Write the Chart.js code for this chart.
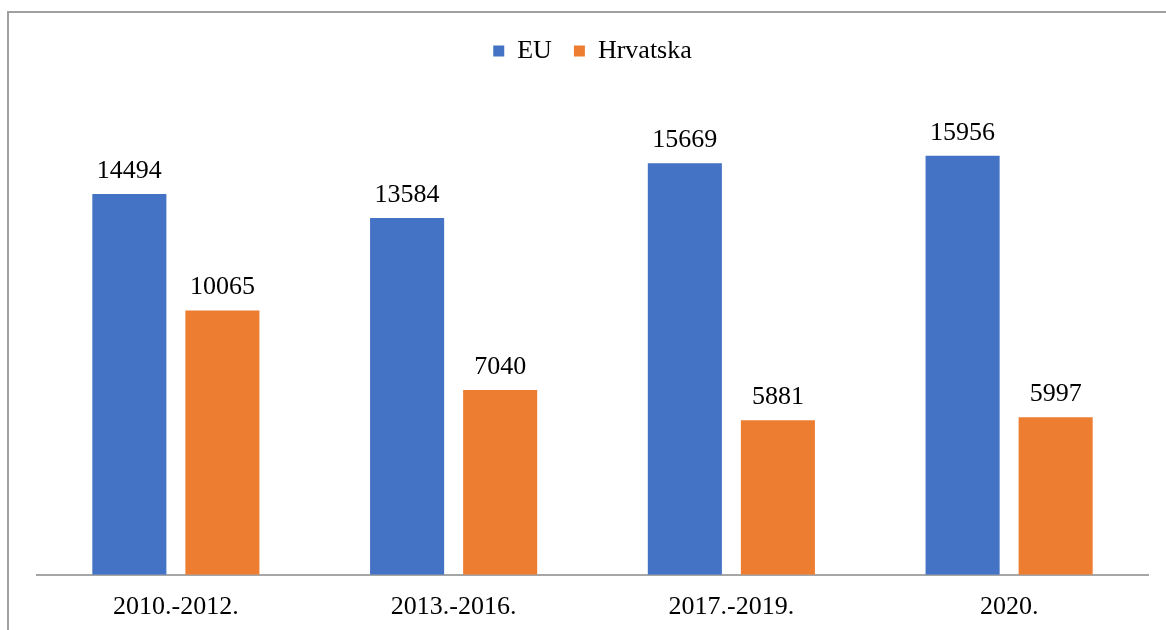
<!DOCTYPE html>
<html lang="hr">
<head>
    <meta charset="UTF-8">
    <title>EU i Hrvatska</title>
    <script src="https://cdn.jsdelivr.net/npm/chart.js"></script>
    <style>
        html, body {
            margin: 0;
            padding: 0;
            background: #fff;
            overflow: hidden;
        }
        .frame {
            position: absolute;
            left: 7px;
            top: 11px;
            width: 1200px;
            height: 700px;
            border: 2px solid #a0a0a0;
        }
        #chartContainer {
            position: absolute;
            left: 0;
            top: 0;
            width: 1166px;
            height: 630px;
        }
    </style>
</head>
<body>
<div class="frame"></div>
<div id="chartContainer">
    <canvas id="myChart"></canvas>
</div>
<script>
  const categories = ['2010.-2012.', '2013.-2016.', '2017.-2019.', '2020.'];
  const euValues = [14494, 13584, 15669, 15956];
  const hrValues = [10065, 7040, 5881, 5997];

  const FONT = '"Liberation Serif", "Times New Roman", serif';

  // vrijednosti iznad stupaca
  const valueLabels = {
    id: 'valueLabels',
    afterDatasetsDraw(chart) {
      const ctx = chart.ctx;
      ctx.save();
      ctx.font = '26px ' + FONT;
      ctx.fillStyle = '#000';
      ctx.textAlign = 'center';
      ctx.textBaseline = 'alphabetic';
      chart.data.datasets.forEach((ds, i) => {
        chart.getDatasetMeta(i).data.forEach((bar, j) => {
          ctx.fillText(ds.data[j], bar.x, bar.y - 16);
        });
      });
      ctx.restore();
    }
  };

  // dodatni razmak ispod legende
  const legendMargin = {
    id: 'legendMargin',
    beforeInit(chart) {
      const fit = chart.legend.fit;
      chart.legend.fit = function () {
        fit.bind(chart.legend)();
        this.height += 28;
      };
    }
  };

  const ctx = document.getElementById('myChart').getContext('2d');
  new Chart(ctx, {
    type: 'bar',
    data: {
      labels: categories,
      datasets: [
        { label: 'EU', data: euValues, backgroundColor: '#4472C4' },
        { label: 'Hrvatska', data: hrValues, backgroundColor: '#ED7D31' }
      ]
    },
    options: {
      responsive: true,
      maintainAspectRatio: false,
      animation: false,
      layout: { padding: { left: 37, right: 18, top: 16, bottom: -10 } },
      categoryPercentage: 0.67,
      barPercentage: 0.796,
      plugins: {
        legend: {
          position: 'top',
          labels: {
            boxWidth: 11,
            boxHeight: 11,
            padding: 22,
            color: '#000',
            font: { family: FONT, size: 26 }
          }
        },
        tooltip: { enabled: false }
      },
      scales: {
        x: {
          grid: { display: false, drawTicks: false },
          border: { display: true, color: '#a6a6a6', width: 2 },
          ticks: { color: '#000', padding: 17, font: { family: FONT, size: 26 } }
        },
        y: {
          display: false,
          min: 0,
          max: 18000
        }
      }
    },
    plugins: [valueLabels, legendMargin]
  });
</script>
</body>
</html>
